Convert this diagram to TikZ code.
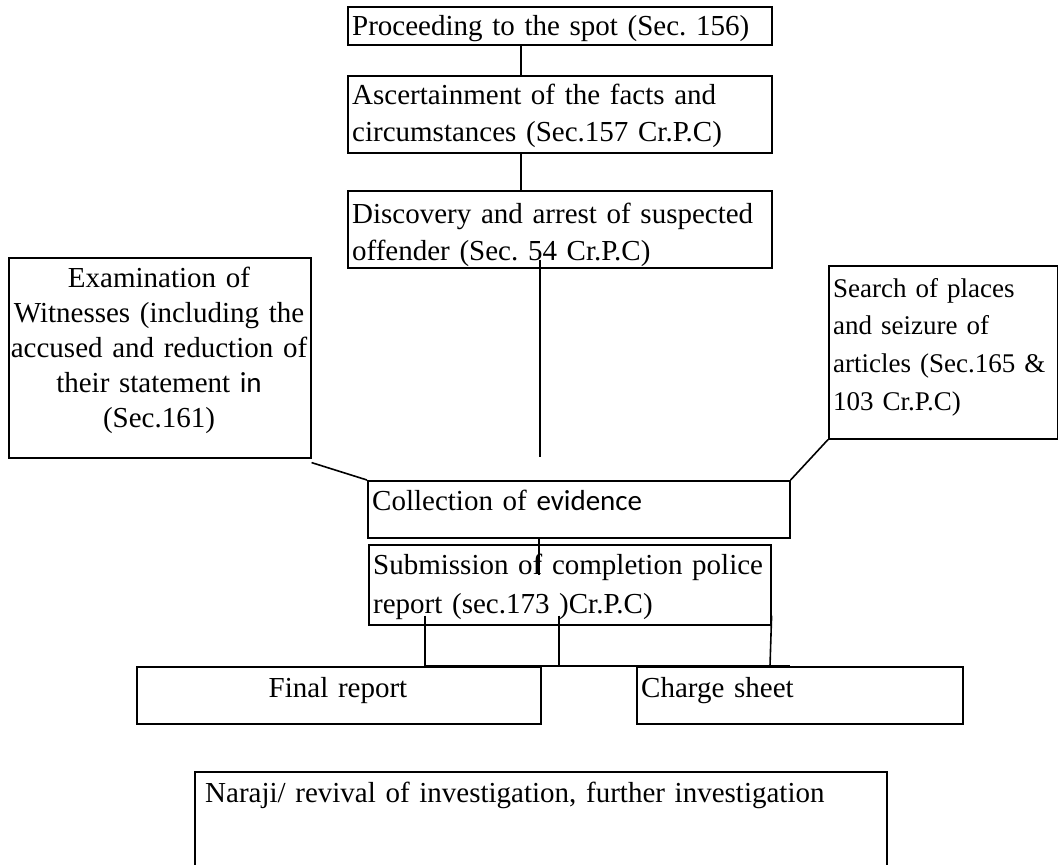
\documentclass[tikz,border=0pt]{standalone}
\usepackage{fontspec}
\setmainfont{Liberation Serif}
\newfontfamily\calib{Carlito}
\newcommand\fsA{\fontsize{29}{37.5}\selectfont}
\newcommand\fsB{\fontsize{29}{35}\selectfont}
\newcommand\fsC{\fontsize{29}{39}\selectfont}
\newcommand\fsD{\fontsize{27}{37.7}\selectfont}
\frenchspacing
\begin{document}
\begin{tikzpicture}[x=1pt,y=-1pt,
  box/.style={draw, line width=1.6pt, inner sep=0pt, anchor=north west},
  txt/.style={inner sep=0pt, anchor=base west, align=left, text width=500pt, font=\fsA},
  ctxt/.style={inner sep=0pt, anchor=base, align=center, font=\fsA},
  conn/.style={line width=1.6pt}]
\useasboundingbox (0,0) rectangle (1058,865);
\clip (0,0) rectangle (1058,865);
% boxes
\node[box, minimum width=424, minimum height=38] (b1) at (347,6) {};
\node[box, minimum width=424, minimum height=77] (b2) at (347,75) {};
\node[box, minimum width=424, minimum height=77] (b3) at (347,190) {};
\node[box, minimum width=302, minimum height=200] (bl) at (8,257) {};
\node[box, minimum width=229, minimum height=173] (br) at (828,265) {};
\node[box, minimum width=422, minimum height=57] (bc) at (367,480) {};
\node[box, minimum width=402, minimum height=80] (bs) at (368,544) {};
\node[box, minimum width=404, minimum height=57] (bf) at (136,666) {};
\node[box, minimum width=326, minimum height=57] (bg) at (636,666) {};
\node[box, minimum width=692, minimum height=110] (bn) at (194,771) {};
% texts
\node[txt] (t1) at (352,35) {Proceeding to the spot (Sec. 156)};
\node[txt] (t2) at (352,104) {Ascertainment of the facts and\\circumstances (Sec.157 Cr.P.C)};
\node[txt] (t3) at (352,223) {Discovery and arrest of suspected\\offender (Sec. 54 Cr.P.C)};
\node[ctxt, text width=300pt, font=\fsB] (tl) at (159,287) {Examination of\\Witnesses (including the\\accused and reduction of\\their statement {\calib in}\\(Sec.161)};
\node[txt, text width=220pt, font=\fsD] (tr) at (833,297) {Search of places\\and seizure of\\articles (Sec.165 \&\\103 Cr.P.C)};
\node[txt] (tc) at (372,510) {Collection of {\calib evidence}};
\node[txt, font=\fsC] (ts) at (373,574) {Submission of completion police\\report (sec.173 )Cr.P.C)};
\node[ctxt, text width=400pt] (tf) at (338,697) {Final report};
\node[txt] (tg) at (641,697) {Charge sheet};
\node[txt, text width=680pt] (tn) at (205,802) {Naraji/ revival of investigation, further investigation};
% connectors
\coordinate (e3) at (540,457);
\coordinate (mid) at (559,666);
\draw[conn] ([xshift=174pt]b1.south west) -- ([xshift=174pt]b2.north west);
\draw[conn] ([xshift=174pt]b2.south west) -- ([xshift=174pt]b3.north west);
\draw[conn] ([xshift=193pt,yshift=9pt]b3.south west) -- (e3);
\draw[conn] ([yshift=-4pt]bl.south east) -- (bc.north west);
\draw[conn] (br.south west) -- (bc.north east);
\draw[conn] ([xshift=172pt]bc.south west) -- ([xshift=171pt,yshift=-31pt]bs.north west);
\draw[conn] ([xshift=57pt,yshift=10pt]bs.south west) -- ([xshift=289pt]bf.north west);
\draw[conn] ([xshift=191pt,yshift=10pt]bs.south west) -- (mid);
\draw[conn] ([yshift=10pt]bs.south east) -- ([xshift=134pt]bg.north west);
\draw[conn] ([xshift=289pt]bf.north west) -- ([xshift=154pt]bg.north west);
\end{tikzpicture}
\end{document}
